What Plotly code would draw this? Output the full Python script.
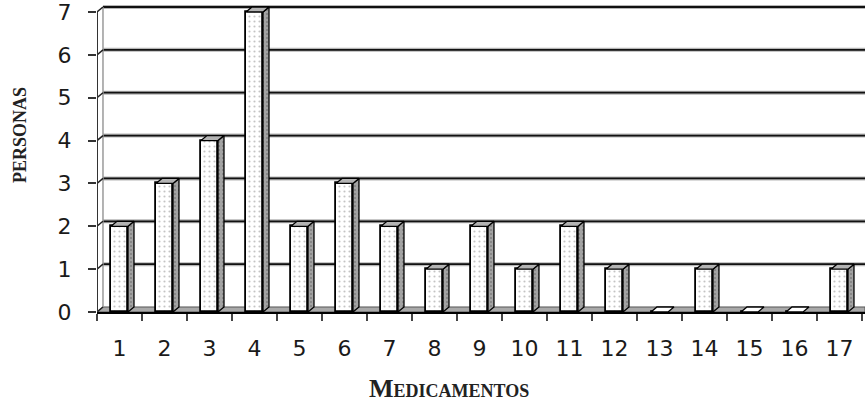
import plotly.graph_objects as go

# Number of people per medication
categories = list(range(1, 18))
tick_labels = [str(c) for c in categories]
personas = [2, 3, 4, 7, 2, 3, 2, 1, 2, 1, 2, 1, 0, 1, 0, 0, 1]
y_ticks = list(range(0, 8))

# Pseudo-3D geometry (in data units)
BAR_W = 0.378          # front face width
DX, DY = 0.133, 0.117  # depth offset
X0, X1 = 0.5, 17.567
Y_TOP = 7.187
Y_MAX = y_ticks[-1]

fig = go.Figure()

shapes = []

# floor
shapes.append(dict(type="path", xref="x", yref="y", layer="below",
                   path=f"M {X0},0 L {X0 + DX},{DY} L {X1},{DY} L {X1},0 Z",
                   fillcolor="#a9a9a9", line=dict(color="#555555", width=1)))

# back-wall gridlines
for v in y_ticks[1:]:
    shapes.append(dict(type="line", xref="x", yref="y", layer="below",
                       x0=X0 + DX, y0=v + DY, x1=X1, y1=v + DY,
                       line=dict(color="#b5b5b5", width=4)))
    shapes.append(dict(type="line", xref="x", yref="y", layer="below",
                       x0=X0 + DX, y0=v + DY, x1=X1, y1=v + DY,
                       line=dict(color="#111111", width=1.8)))

# left wall: back edge and diagonals
shapes.append(dict(type="line", xref="x", yref="y", layer="below",
                   x0=X0 + DX, y0=DY, x1=X0 + DX, y1=Y_MAX + DY,
                   line=dict(color="#9a9a9a", width=1.5)))
for v in y_ticks:
    shapes.append(dict(type="line", xref="x", yref="y", layer="below",
                       x0=X0, y0=v, x1=X0 + DX, y1=v + DY,
                       line=dict(color="#222222", width=1.5)))

# front value axis line
shapes.append(dict(type="line", xref="x", yref="y", layer="below",
                   x0=X0, y0=0, x1=X0, y1=Y_MAX,
                   line=dict(color="#333333", width=2)))

# front faces
fig.add_trace(go.Bar(
    x=categories, y=personas, width=BAR_W,
    marker=dict(color="white", line=dict(color="black", width=1.8),
                pattern=dict(shape=".", fgcolor="#8a8a8a", bgcolor="white",
                             size=5, solidity=0.15)),
    hoverinfo="skip", showlegend=False,
))

# side and top faces
side_x, side_y = [], []
top_x, top_y = [], []
flat_x, flat_y = [], []
for c, v in zip(categories, personas):
    left, right = c - BAR_W / 2, c + BAR_W / 2
    if v > 0:
        side_x += [right, right + DX, right + DX, right, right, None]
        side_y += [0, DY, v + DY, v, 0, None]
        top_x += [left, left + DX, right + DX, right, left, None]
        top_y += [v, v + DY, v + DY, v, v, None]
    else:
        flat_x += [left, left + DX, right + DX, right, left, None]
        flat_y += [v, v + DY, v + DY, v, v, None]

fig.add_trace(go.Scatter(
    x=side_x, y=side_y, mode="lines", fill="toself",
    fillcolor="#9c9c9c",
    fillpattern=dict(shape=".", fgcolor="#5a5a5a", bgcolor="#a3a3a3",
                     size=4, solidity=0.2),
    line=dict(color="black", width=1.3),
    hoverinfo="skip", showlegend=False,
))
fig.add_trace(go.Scatter(
    x=top_x, y=top_y, mode="lines", fill="toself", fillcolor="#b3b3b3",
    line=dict(color="black", width=1.3),
    hoverinfo="skip", showlegend=False,
))
fig.add_trace(go.Scatter(
    x=flat_x, y=flat_y, mode="lines", fill="toself", fillcolor="white",
    line=dict(color="black", width=1.3),
    hoverinfo="skip", showlegend=False,
))

# carrier for the category-label axis
fig.add_trace(go.Scatter(
    x=[categories[0]], y=[0], xaxis="x2", yaxis="y", mode="markers",
    marker=dict(opacity=0), hoverinfo="skip", showlegend=False,
))

tick_font = dict(family="DejaVu Sans", size=22, color="#1a1a1a")
title_font = dict(family="Liberation Serif", size=26, weight="bold",
                  variant="small-caps", color="#222222")

boundaries = [c - 0.5 for c in categories] + [categories[-1] + 0.5]

fig.update_layout(
    width=865, height=404,
    margin=dict(l=97, r=0, t=4, b=92),
    paper_bgcolor="white", plot_bgcolor="white",
    bargap=0, showlegend=False,
    shapes=shapes,
    xaxis=dict(range=[X0, X1], tickmode="array", tickvals=boundaries,
               showticklabels=False, ticks="outside", ticklen=7,
               tickwidth=1.5, tickcolor="#444444",
               showline=True, linecolor="black", linewidth=2,
               showgrid=False, zeroline=False, fixedrange=True),
    xaxis2=dict(range=[X0, X1], overlaying="x", anchor="y", side="bottom",
                tickmode="array", tickvals=categories, ticktext=tick_labels,
                ticks="", showline=False, showgrid=False, zeroline=False,
                tickfont=tick_font, ticklabelstandoff=21,
                ticklabeloverflow="allow", fixedrange=True),
    yaxis=dict(range=[0, Y_TOP], tickmode="array", tickvals=y_ticks,
               ticks="outside", ticklen=8, tickwidth=1.5,
               tickcolor="#333333", showline=False, showgrid=False,
               zeroline=False, tickfont=tick_font, ticklabelstandoff=12,
               ticklabeloverflow="allow", fixedrange=True),
    annotations=[
        dict(text="Medicamentos", xref="paper", yref="paper",
             x=(449 - 97) / 768, y=(312 - 388) / 308,
             xanchor="center", yanchor="middle", showarrow=False,
             font=title_font),
        dict(text="personas", xref="paper", yref="paper",
             x=(17 - 97) / 768, y=(312 - 135) / 308, textangle=-90,
             xanchor="center", yanchor="middle", showarrow=False,
             font=title_font),
    ],
)

fig.write_html("out.html")
